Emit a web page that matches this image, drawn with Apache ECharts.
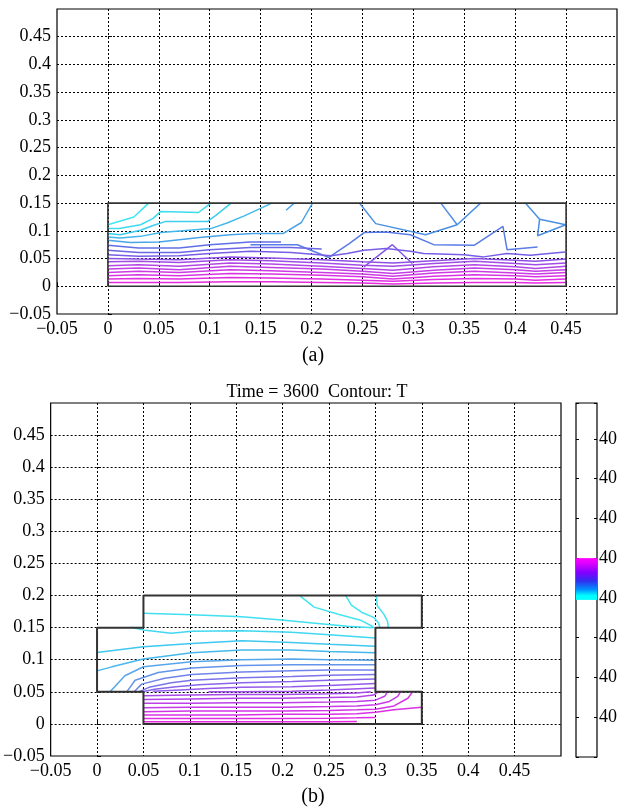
<!DOCTYPE html>
<html>
<head>
<meta charset="utf-8">
<script src="https://cdn.jsdelivr.net/npm/echarts@6/dist/echarts.min.js"></script>
<style>
html,body{margin:0;padding:0;background:#fff;}
#main{width:620px;height:809px;}
</style>
</head>
<body>
<div id="main"></div>
<script>
// ---------- tick labels ----------
const tickValues = [-0.05, 0, 0.05, 0.1, 0.15, 0.2, 0.25, 0.3, 0.35, 0.4, 0.45];
const captionA = '(a)';
const captionB = '(b)';
const titleB = 'Time = 3600  Contour: T';
const colorbarTicks = [1, 2, 3, 4, 5, 6, 7, 8];
const colorbarLabel = '40';
const colorbarBand = [3.95, 1.05]; // [empty below, coloured band]

// ---------- (a) geometry ----------
const topBoundary = [[0,0],[0.45,0],[0.45,0.15],[0,0.15],[0,0]];

// ---------- (a) contour lines ----------
const topCyanLines = [
  [[0,0.111],[0.0255,0.125],[0.040,0.150]],
  [[0,0.104],[0.011,0.104],[0.032,0.111],[0.044,0.122],[0.052,0.135],[0.089,0.133],[0.101,0.150]],
  [[0,0.095],[0.012,0.093],[0.032,0.101],[0.045,0.110],[0.057,0.117],[0.098,0.117],[0.106,0.128],[0.121,0.150]],
  [[0,0.089],[0.012,0.087],[0.032,0.090],[0.052,0.097],[0.101,0.104],[0.117,0.114],[0.134,0.127],[0.161,0.150]]
];
const topCyanColors = ['#3fe6f0','#3cdcf0','#3ecdee','#44b8ec'];

const topBlueLines = [
  [[0,0.083],[0.022,0.079],[0.05,0.080],[0.09,0.088],[0.12,0.093],[0.143,0.095],[0.172,0.095],[0.19,0.115],[0.201,0.150]],
  [[0.175,0.137],[0.183,0.150]],
  [[0.247,0.150],[0.263,0.113],[0.312,0.093],[0.343,0.111],[0.366,0.150]],
  [[0.327,0.150],[0.343,0.111]],
  [[0.410,0.150],[0.424,0.121],[0.4496,0.111],[0.422,0.091],[0.424,0.121]],
  [[0.14,0.075],[0.186,0.075],[0.217,0.052],[0.237,0.077],[0.252,0.097],[0.273,0.098],[0.297,0.093],[0.320,0.075],[0.360,0.074],[0.388,0.108],[0.392,0.066],[0.422,0.071]]
];
const topBlueColors = ['#4aa4e8','#4aa4e8','#4a90e4','#4a90e4','#4a90e4','#5a7ce6'];

const topPurpleLines = [
  [[0,0.074],[0.03,0.069],[0.07,0.069],[0.10,0.075],[0.14,0.080],[0.17,0.080]],
  [[0,0.065],[0.03,0.061],[0.07,0.061],[0.10,0.066],[0.14,0.070],[0.18,0.070],[0.21,0.067]],
  [[0,0.057],[0.03,0.054],[0.07,0.055],[0.10,0.059],[0.14,0.063],[0.18,0.061],[0.219,0.055],[0.235,0.059],[0.2515,0.065],[0.273,0.068],[0.297,0.063],[0.31,0.059],[0.35,0.057],[0.369,0.053],[0.392,0.059],[0.415,0.056],[0.449,0.062]],
  [[0.2515,0.035],[0.2794,0.075],[0.299,0.041]]
];
const topPurpleColors = ['#6070e6','#6c66e6','#785ee6','#8458e6'];

const topMagentaX = [0, 0.03, 0.07, 0.12, 0.16, 0.21, 0.25, 0.28, 0.32, 0.36, 0.40, 0.42, 0.45];
const topMagentaY = [
  [0.050,0.049,0.048,0.053,0.051,0.048,0.044,0.042,0.046,0.050,0.047,0.045,0.049],
  [0.044,0.045,0.043,0.048,0.046,0.042,0.038,0.036,0.041,0.045,0.041,0.039,0.042],
  [0.037,0.039,0.036,0.042,0.040,0.036,0.032,0.029,0.035,0.039,0.035,0.032,0.036],
  [0.031,0.033,0.030,0.036,0.034,0.031,0.027,0.023,0.029,0.033,0.030,0.027,0.030],
  [0.025,0.027,0.025,0.030,0.028,0.025,0.022,0.018,0.024,0.027,0.024,0.022,0.025],
  [0.019,0.021,0.019,0.023,0.022,0.020,0.017,0.013,0.018,0.021,0.019,0.017,0.019],
  [0.013,0.014,0.013,0.016,0.015,0.013,0.011,0.009,0.012,0.014,0.013,0.011,0.013],
  [0.007,0.007,0.007,0.008,0.008,0.007,0.006,0.004,0.006,0.007,0.007,0.006,0.007]
];
const topMagentaColors = ['#9052e6','#a24ce6','#b446e6','#c240e6','#ce3ae4','#d834e4','#e02ee2','#e62ae0'];

// ---------- (b) geometry ----------
const bottomBoundary = [[0.05,0.2],[0.35,0.2],[0.35,0.15],[0.3,0.15],[0.3,0.05],[0.35,0.05],[0.35,0],[0.05,0],[0.05,0.05],[0,0.05],[0,0.15],[0.05,0.15],[0.05,0.2]];

// ---------- (b) contour lines ----------
const bottomCyanLines = [
  [[0.219,0.199],[0.234,0.182],[0.260,0.171],[0.285,0.161],[0.298,0.151]],
  [[0.268,0.200],[0.274,0.185],[0.285,0.174],[0.298,0.166],[0.303,0.158],[0.305,0.150]],
  [[0.301,0.200],[0.302,0.184],[0.309,0.171],[0.313,0.160],[0.314,0.150]],
  [[0.05,0.1725],[0.102,0.170],[0.156,0.167],[0.199,0.162],[0.235,0.157],[0.270,0.152],[0.298,0.150]],
  [[0.037,0.1505],[0.05,0.1464],[0.080,0.1412],[0.102,0.1443],[0.156,0.1453],[0.2095,0.1427],[0.25,0.139],[0.30,0.134]],
  [[0,0.1113],[0.05,0.1202],[0.102,0.1254],[0.156,0.1296],[0.2095,0.127],[0.25,0.124],[0.30,0.121]],
  [[0,0.0826],[0.016,0.0889],[0.05,0.101],[0.102,0.111],[0.156,0.115],[0.2095,0.115],[0.25,0.113],[0.30,0.111]]
];
const bottomCyanColors = ['#44e4ee','#44e4ee','#44e4ee','#40e0f0','#40d8f0','#40c8ee','#46b8ec'];

const bottomBlueLines = [
  [[0.014,0.050],[0.030,0.075],[0.05,0.089],[0.102,0.097],[0.156,0.100],[0.21,0.101],[0.25,0.100],[0.30,0.099]],
  [[0.032,0.050],[0.041,0.068],[0.066,0.080],[0.102,0.087],[0.156,0.091],[0.21,0.092],[0.25,0.092],[0.30,0.092]],
  [[0.040,0.050],[0.048,0.062],[0.073,0.071],[0.102,0.077],[0.156,0.081],[0.21,0.083],[0.25,0.084],[0.30,0.084]],
  [[0.045,0.050],[0.056,0.057],[0.080,0.064],[0.102,0.068],[0.156,0.072],[0.21,0.074],[0.25,0.076],[0.30,0.077]],
  [[0.049,0.050],[0.062,0.054],[0.085,0.058],[0.11,0.061],[0.156,0.064],[0.21,0.066],[0.25,0.068],[0.30,0.070]],
  [[0.06,0.051],[0.09,0.053],[0.12,0.055],[0.156,0.057],[0.21,0.058],[0.25,0.060],[0.30,0.063]],
  [[0.12,0.050],[0.156,0.050],[0.21,0.051],[0.25,0.053],[0.30,0.056]]
];
const bottomBlueColors = ['#56a6ea','#6494ea','#7084ea','#7c74ea','#8866ea','#945aea','#9e52ea'];

const bottomMagentaLines = [
  [[0.05,0.044],[0.10,0.045],[0.15,0.046],[0.20,0.046],[0.25,0.047],[0.28,0.048],[0.295,0.050]],
  [[0.05,0.038],[0.10,0.039],[0.15,0.040],[0.20,0.040],[0.25,0.041],[0.28,0.042],[0.298,0.045],[0.303,0.050]],
  [[0.05,0.032],[0.10,0.032],[0.15,0.033],[0.20,0.033],[0.25,0.034],[0.28,0.035],[0.30,0.037],[0.31,0.043],[0.313,0.050]],
  [[0.05,0.025],[0.10,0.026],[0.15,0.026],[0.20,0.026],[0.25,0.027],[0.28,0.028],[0.30,0.030],[0.315,0.035],[0.324,0.043],[0.327,0.050]],
  [[0.05,0.019],[0.10,0.020],[0.15,0.020],[0.20,0.020],[0.25,0.021],[0.28,0.022],[0.30,0.023],[0.32,0.028],[0.335,0.040],[0.340,0.050]],
  [[0.05,0.014],[0.10,0.014],[0.15,0.014],[0.20,0.015],[0.25,0.015],[0.28,0.016],[0.30,0.018],[0.32,0.022],[0.35,0.026]],
  [[0.05,0.0084],[0.10,0.0085],[0.15,0.0085],[0.20,0.0086],[0.25,0.009],[0.28,0.0095],[0.30,0.010]],
  [[0.05,0.0032],[0.10,0.0033],[0.15,0.0033],[0.20,0.0034],[0.25,0.0035],[0.28,0.0036]]
];
const bottomMagentaColors = ['#a84ae8','#b444e8','#be40e8','#c83ae8','#d234e6','#da30e6','#e02ce4','#e628e2'];

// ---------- build ----------
const FONT = 'Liberation Serif';
function fmt(v) {
  const r = Math.round(v * 100) / 100;
  if (r > 0.49) return '';
  if (r < 0) return '\u2212' + String(Math.abs(r));
  return String(r);
}
function valueAxis(gridIndex) {
  return {
    type: 'value', gridIndex: gridIndex, min: -0.05, max: 0.5, interval: 0.05,
    axisLine: { show: false },
    axisTick: { show: true, inside: true, length: 4, lineStyle: { color: '#000' } },
    axisLabel: { formatter: fmt, fontFamily: FONT, fontSize: 18, color: '#000', margin: 6, showMaxLabel: false },
    splitLine: { show: true, showMinLine: false, showMaxLine: false, lineStyle: { color: '#000', type: [2, 2], width: 1 } }
  };
}
const series = [];
function addLines(lines, colors, xi, yi) {
  lines.forEach(function (pts, i) {
    series.push({ type: 'line', xAxisIndex: xi, yAxisIndex: yi, data: pts, showSymbol: false, symbol: 'none',
      silent: true, animation: false, lineStyle: { color: colors[i], width: 1.5 }, z: 3 });
  });
}
addLines(topCyanLines, topCyanColors, 0, 0);
addLines(topBlueLines, topBlueColors, 0, 0);
addLines(topPurpleLines, topPurpleColors, 0, 0);
addLines(topMagentaY.map(function (ys) { return ys.map(function (y, j) { return [topMagentaX[j], y]; }); }), topMagentaColors, 0, 0);
series.push({ type: 'line', xAxisIndex: 0, yAxisIndex: 0, data: topBoundary, showSymbol: false, symbol: 'none', silent: true, animation: false,
  lineStyle: { color: '#333', width: 1.6 }, z: 4 });

addLines(bottomCyanLines, bottomCyanColors, 1, 1);
addLines(bottomBlueLines, bottomBlueColors, 1, 1);
addLines(bottomMagentaLines, bottomMagentaColors, 1, 1);
series.push({ type: 'line', xAxisIndex: 1, yAxisIndex: 1, data: bottomBoundary, showSymbol: false, symbol: 'none', silent: true, animation: false,
  lineStyle: { color: '#333', width: 2 }, z: 4 });

// colour bar
series.push({ type: 'bar', xAxisIndex: 2, yAxisIndex: 2, stack: 'cb', data: [colorbarBand[0]], barWidth: '100%', silent: true, animation: false,
  itemStyle: { color: 'rgba(0,0,0,0)' } });
series.push({ type: 'bar', xAxisIndex: 2, yAxisIndex: 2, stack: 'cb', data: [colorbarBand[1]], barWidth: '100%', silent: true, animation: false,
  itemStyle: { color: { type: 'linear', x: 0, y: 0, x2: 0, y2: 1, colorStops: [
    { offset: 0, color: '#ff00ff' }, { offset: 0.12, color: '#e000ff' }, { offset: 0.35, color: '#8000ff' },
    { offset: 0.55, color: '#3030f0' }, { offset: 0.75, color: '#0090ff' }, { offset: 0.9, color: '#00ffff' }, { offset: 1, color: '#00ffff' } ] } } });

const chart = echarts.init(document.getElementById('main'), null, { renderer: 'canvas' });
chart.setOption({
  backgroundColor: '#fff',
  animation: false,
  grid: [
    { left: 57, right: 3, top: 9, height: 305, show: true, borderColor: '#000', borderWidth: 1.2, backgroundColor: 'transparent' },
    { left: 50, right: 59, top: 403, height: 353, show: true, borderColor: '#000', borderWidth: 1.2, backgroundColor: 'transparent' },
    { left: 576, width: 21, top: 403, height: 354, show: true, borderColor: '#000', borderWidth: 1.2, backgroundColor: 'transparent' }
  ],
  xAxis: [
    valueAxis(0), valueAxis(1),
    { type: 'category', gridIndex: 2, data: ['T'], show: false, boundaryGap: true }
  ],
  yAxis: [
    valueAxis(0), valueAxis(1),
    { type: 'value', gridIndex: 2, min: 0, max: 8.9, interval: 1, position: 'right',
      axisLine: { show: false },
      axisTick: { show: true, inside: true, length: 3, lineStyle: { color: '#000' } },
      axisLabel: { fontFamily: FONT, fontSize: 18, color: '#000', margin: 2,
        formatter: function (v) { return colorbarTicks.indexOf(Math.round(v)) >= 0 && Math.abs(v - Math.round(v)) < 1e-6 ? colorbarLabel : ''; } },
      splitLine: { show: false } },
    { type: 'value', gridIndex: 2, min: 0, max: 8.9, interval: 1, position: 'left',
      axisLine: { show: false },
      axisTick: { show: true, inside: true, length: 3, lineStyle: { color: '#000' } },
      axisLabel: { show: false }, splitLine: { show: false } }
  ],
  graphic: [
    { type: 'text', x: 313, y: 346, style: { text: captionA, fontFamily: FONT, fontSize: 20, fill: '#000', textAlign: 'center', textVerticalAlign: 'top' } },
    { type: 'text', x: 313, y: 787, style: { text: captionB, fontFamily: FONT, fontSize: 20, fill: '#000', textAlign: 'center', textVerticalAlign: 'top' } },
    { type: 'text', x: 317, y: 383, style: { text: titleB, fontFamily: FONT, fontSize: 18, fill: '#000', textAlign: 'center', textVerticalAlign: 'top' } }
  ],
  series: series
});
</script>
</body>
</html>
